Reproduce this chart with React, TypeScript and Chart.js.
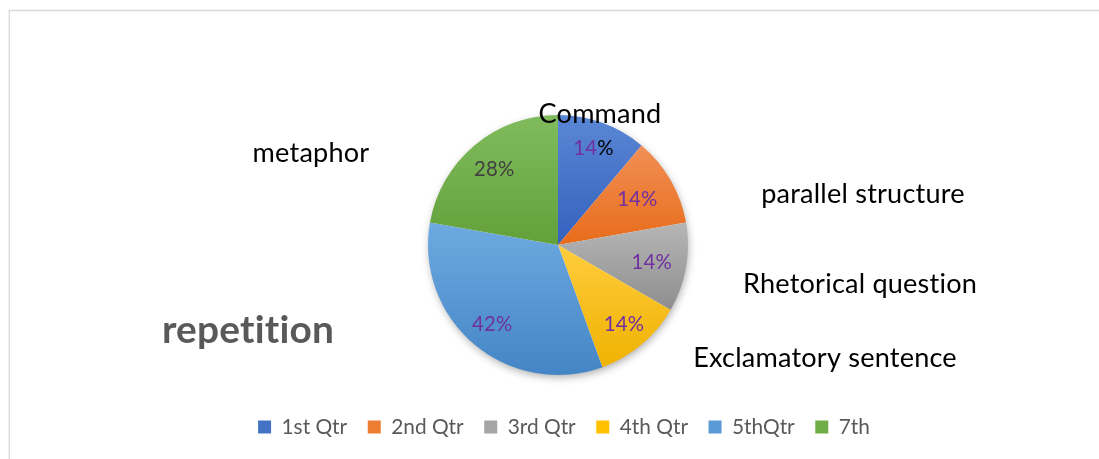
import React, { useEffect, useRef } from "react";
import { Chart, registerables } from "chart.js";

Chart.register(...registerables);

// ---------- data ----------
const categories = ["1st Qtr", "2nd Qtr", "3rd Qtr", "4th Qtr", "5thQtr", "7th"];
const values = [14, 14, 14, 14, 42, 28];
const sliceNames = [
  "Command",
  "parallel structure",
  "Rhetorical question",
  "Exclamatory sentence",
  "repetition",
  "metaphor",
];

// ---------- styles ----------
const FONT = "Lato";
const W = 1099;
const H = 459;
const PIE_R = 130;
const SPACING = "0.2px"; // non-zero letter spacing keeps the ligatures off
const topColors = ["#5A87D4", "#F18F55", "#B6B6B6", "#FFCC3D", "#6DAAE0", "#80BC5D"];
const bottomColors = ["#3461BD", "#E86C1B", "#8E8E8E", "#EFB200", "#4485C6", "#63A03B"];
const solidColors = ["#4472C4", "#ED7D31", "#A5A5A5", "#FFC000", "#5B9BD5", "#70AD47"];
const pctNumColors = ["#7030A0", "#7030A0", "#7030A0", "#7030A0", "#7030A0", "#404040"];
const pctSignColors = ["#000000", "#7030A0", "#7030A0", "#7030A0", "#7030A0", "#404040"];
const pctRadius = [0.797, 0.705, 0.733, 0.789, 0.788, 0.762];
const nameColors = ["#000000", "#000000", "#000000", "#000000", "#595959", "#000000"];
const nameBold = [false, false, false, false, true, false];
const nameOffsets = [
  [42, -122],
  [305, -41.7],
  [302, 48],
  [267, 122],
  [-310, 98],
  [-247, -83],
];
const nameTargetWidths = [121, 203, 230, 260, 171, 117];

function measure(text: string, size: number, bold = false) {
  const c = document.createElement("canvas").getContext("2d")! as any;
  c.font = `${bold ? "bold " : ""}${size}px ${FONT}`;
  c.letterSpacing = SPACING;
  return c.measureText(text).width;
}

export default function App() {
  const ref = useRef<HTMLCanvasElement>(null);

  useEffect(() => {
    const canvas = ref.current!;

    // font sizes fitted to the reference text widths
    const legendFs = (100 * 66) / measure("1st Qtr", 100);
    const pctFs = (100 * 40) / measure("14%", 100);
    let regTarget = 0;
    let regMeasured = 0;
    sliceNames.forEach((n, i) => {
      if (!nameBold[i]) {
        regTarget += nameTargetWidths[i];
        regMeasured += measure(n, 100);
      }
    });
    const nameFs = (100 * regTarget) / regMeasured;
    const boldFs = (100 * nameTargetWidths[4]) / measure(sliceNames[4], 100, true);

    // layout
    const centerX = 558;
    const centerY = 245;
    const legendCenterX = 564;
    const legendTextY = 427;
    const boxSize = 13;
    const itemH = Math.max(boxSize, legendFs);
    const legendPad = 31 - legendFs / 2;
    const legendH = itemH + legendPad + 10;
    const legendTop = legendTextY - legendPad - itemH / 2;
    const padBottom = H - (legendTop + legendH);
    const padTop = 2 * centerY - legendTop;
    const titleW = 2 * (legendCenterX - centerX);
    const padLeft = 2 * legendCenterX - W;

    const total = values.reduce((a, b) => a + b, 0);

    const gradientFor = (chart: any, i: number) => {
      const area = chart.chartArea;
      if (!area) return solidColors[i];
      const cx = (area.left + area.right) / 2;
      const cy = (area.top + area.bottom) / 2;
      let start = -Math.PI / 2;
      for (let j = 0; j < i; j++) start += (values[j] / total) * Math.PI * 2;
      const end = start + (values[i] / total) * Math.PI * 2;
      const ys = [cy, cy + PIE_R * Math.sin(start), cy + PIE_R * Math.sin(end)];
      for (let k = -2; k <= 4; k++) {
        const a = Math.PI / 2 + k * Math.PI;
        if (a > start && a < end) ys.push(cy + PIE_R * Math.sin(a));
      }
      const y0 = Math.min(...ys);
      const y1 = Math.max(...ys);
      const g = chart.ctx.createLinearGradient(0, y0, 0, y1);
      g.addColorStop(0, topColors[i]);
      g.addColorStop(1, bottomColors[i]);
      return g;
    };

    const framePlugin = {
      id: "frame",
      beforeDraw(chart: any) {
        const ctx = chart.ctx;
        ctx.save();
        ctx.fillStyle = "#ffffff";
        ctx.fillRect(0, 0, W, H);
        ctx.strokeStyle = "#D9D9D9";
        ctx.lineWidth = 1.3;
        ctx.beginPath();
        ctx.moveTo(8.5, 10.5);
        ctx.lineTo(W, 10.5);
        ctx.moveTo(9.3, 10.5);
        ctx.lineTo(9.3, H);
        ctx.stroke();
        ctx.restore();
      },
    };

    const shadowPlugin = {
      id: "pieShadow",
      beforeDatasetsDraw(chart: any) {
        const el = chart.getDatasetMeta(0).data[0];
        if (!el) return;
        const { x, y, outerRadius } = el.getProps(["x", "y", "outerRadius"], true);
        const ctx = chart.ctx;
        ctx.save();
        ctx.shadowColor = "rgba(0,0,0,0.35)";
        ctx.shadowBlur = 9;
        ctx.shadowOffsetX = 1;
        ctx.shadowOffsetY = 3;
        ctx.beginPath();
        ctx.arc(x, y, outerRadius - 1, 0, Math.PI * 2);
        ctx.fillStyle = "#ffffff";
        ctx.fill();
        ctx.restore();
      },
    };

    const labelPlugin = {
      id: "sliceLabels",
      afterDatasetsDraw(chart: any) {
        const ctx = chart.ctx;
        const meta = chart.getDatasetMeta(0);
        ctx.save();
        ctx.textBaseline = "alphabetic";
        ctx.letterSpacing = SPACING;
        meta.data.forEach((el: any, i: number) => {
          const { x, y, startAngle, endAngle, outerRadius } = el.getProps(
            ["x", "y", "startAngle", "endAngle", "outerRadius"],
            true
          );
          const mid = (startAngle + endAngle) / 2;
          const r = outerRadius * pctRadius[i];
          const px = x + Math.cos(mid) * r;
          const py = y + Math.sin(mid) * r;
          ctx.font = `${pctFs}px ${FONT}`;
          const num = String(values[i]);
          const sign = "%";
          const w1 = ctx.measureText(num).width;
          const w2 = ctx.measureText(sign).width;
          const left = px - (w1 + w2) / 2;
          const base = py + pctFs * 0.36;
          ctx.textAlign = "left";
          ctx.fillStyle = pctNumColors[i];
          ctx.fillText(num, left, base);
          ctx.fillStyle = pctSignColors[i];
          ctx.fillText(sign, left + w1, base);
        });
        const c0 = meta.data[0];
        if (c0) {
          const { x, y } = c0.getProps(["x", "y"], true);
          sliceNames.forEach((name, i) => {
            ctx.font = nameBold[i] ? `bold ${boldFs}px ${FONT}` : `${nameFs}px ${FONT}`;
            ctx.fillStyle = nameColors[i];
            ctx.textAlign = "center";
            ctx.fillText(name, x + nameOffsets[i][0], y + nameOffsets[i][1]);
          });
        }
        ctx.restore();
      },
    };

    const chart = new Chart(canvas, {
      type: "pie",
      data: {
        labels: categories,
        datasets: [
          {
            data: values,
            radius: PIE_R,
            borderWidth: 0,
            backgroundColor: (ctx: any) => gradientFor(ctx.chart, ctx.dataIndex),
          } as any,
        ],
      },
      options: {
        responsive: false,
        animation: false,
        devicePixelRatio: 1,
        events: [],
        layout: {
          padding: { top: padTop, bottom: padBottom, left: padLeft, right: 0 },
        },
        plugins: {
          tooltip: { enabled: false },
          title: {
            display: true,
            position: "right",
            text: "",
            padding: 0,
            font: { size: titleW, lineHeight: 1 },
          },
          legend: {
            display: true,
            position: "bottom",
            align: "center",
            labels: {
              boxWidth: boxSize,
              boxHeight: boxSize,
              padding: legendPad,
              color: "#595959",
              font: { family: FONT, size: legendFs },
              generateLabels: () =>
                categories.map((c, i) => ({
                  text: c,
                  fillStyle: solidColors[i],
                  strokeStyle: solidColors[i],
                  lineWidth: 0,
                  hidden: false,
                  index: i,
                  fontColor: "#595959",
                })),
            },
          },
        },
      },
      plugins: [framePlugin, shadowPlugin, labelPlugin],
    });

    return () => chart.destroy();
  }, []);

  return (
    <div style={{ position: "absolute", left: 0, top: 0, width: W, height: H, background: "#fff" }}>
      <canvas ref={ref} width={W} height={H} style={{ display: "block", width: W, height: H }} />
    </div>
  );
}
